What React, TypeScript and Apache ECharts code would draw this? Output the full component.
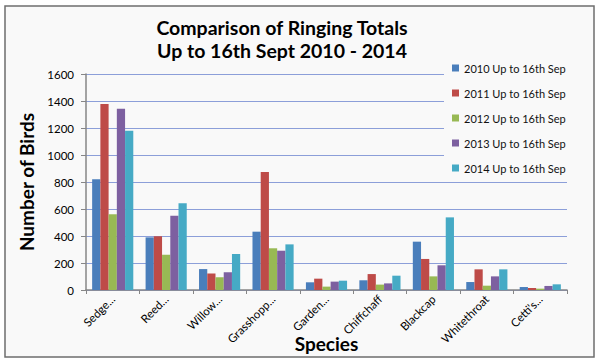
import React, { useEffect, useRef } from "react";
import * as echarts from "echarts";

const categories = ["Sedge...", "Reed...", "Willow...", "Grasshopp...", "Garden...", "Chiffchaff", "Blackcap", "Whitethroat", "Cetti's..."];
const seriesNames = ["2010 Up to 16th Sep", "2011 Up to 16th Sep", "2012 Up to 16th Sep", "2013 Up to 16th Sep", "2014 Up to 16th Sep"];
const v2010 = [820, 390, 155, 432, 57, 72, 358, 59, 22];
const v2011 = [1378, 398, 123, 874, 84, 118, 230, 153, 15];
const v2012 = [561, 262, 94, 309, 25, 40, 101, 32, 10];
const v2013 = [1343, 550, 131, 291, 62, 49, 183, 101, 30];
const v2014 = [1180, 642, 267, 338, 69, 106, 538, 153, 42];
const colors = ["#4a7ebb", "#be4b48", "#98b954", "#7d60a0", "#46aac5"];
const titleLines = ["Comparison of Ringing Totals", "Up to 16th Sept 2010 - 2014"];

export default function App() {
  const ref = useRef<HTMLDivElement>(null);
  useEffect(() => {
    if (!ref.current) return;
    const chart = echarts.init(ref.current, undefined, { renderer: "svg" });
    const allValues = [v2010, v2011, v2012, v2013, v2014];
    const font = "Lato, 'Open Sans', sans-serif";
    chart.setOption({
      animation: false,
      backgroundColor: "#ffffff",
      textStyle: { fontFamily: font },
      graphic: [
        {
          type: "rect",
          z: -10,
          silent: true,
          shape: { x: 5, y: 6, width: 589, height: 351 },
          style: { fill: "#f9f9f9", stroke: "#6e6e6e", lineWidth: 1.5 },
        },
        {
          type: "text",
          x: 282,
          y: 27,
          style: {
            text: titleLines[0],
            font: `bold 19.5px ${font}`,
            fill: "#000",
            align: "center",
            verticalAlign: "middle",
          },
        },
        {
          type: "text",
          x: 282,
          y: 50,
          style: {
            text: titleLines[1],
            font: `bold 19.5px ${font}`,
            fill: "#000",
            align: "center",
            verticalAlign: "middle",
          },
        },
      ],
      grid: { left: 86, right: 33, top: 74, bottom: 74, containLabel: false, outerBoundsMode: "none" },
      legend: {
        orient: "vertical",
        left: 444,
        top: 58,
        padding: [3, 8, 6, 8],
        itemGap: 11,
        itemWidth: 7,
        itemHeight: 7,
        icon: "rect",
        backgroundColor: "#f9f9f9",
        textStyle: { fontSize: 11, color: "#111", lineHeight: 14, fontFamily: font },
        data: seriesNames,
      },
      xAxis: {
        type: "category",
        data: categories,
        name: "Species",
        nameLocation: "middle",
        nameGap: 44,
        nameMoveOverlap: false,
        nameTextStyle: { fontSize: 19, fontWeight: "bold", color: "#000", fontFamily: font },
        axisLine: { lineStyle: { color: "#868686", width: 1.5 } },
        axisTick: { show: true, length: 4, lineStyle: { color: "#868686" } },
        axisLabel: { rotate: 45, fontSize: 11.5, color: "#000", margin: 7, interval: 0, fontFamily: font },
      },
      yAxis: {
        type: "value",
        min: 0,
        max: 1600,
        interval: 200,
        name: "Number of Birds",
        nameLocation: "middle",
        nameGap: 50,
        nameMoveOverlap: false,
        nameRotate: 90,
        nameTextStyle: { fontSize: 19, fontWeight: "bold", color: "#000", fontFamily: font },
        axisLine: { show: true, lineStyle: { color: "#868686", width: 1.5 } },
        axisTick: { show: true, length: 5, lineStyle: { color: "#868686" } },
        axisLabel: { fontSize: 11.5, color: "#000", margin: 12, fontFamily: font, formatter: (v: number) => String(v) },
        splitLine: { lineStyle: { color: "#8c9fd9", width: 1 } },
      },
      series: seriesNames.map((name, i) => ({
        name,
        type: "bar",
        data: allValues[i],
        barGap: "0%",
        barCategoryGap: "23%",
        itemStyle: { color: colors[i] },
      })),
    });
    return () => chart.dispose();
  }, []);
  return (
    <div
      ref={ref}
      style={{ position: "fixed", left: 0, top: 0, width: 600, height: 364 }}
    />
  );
}
